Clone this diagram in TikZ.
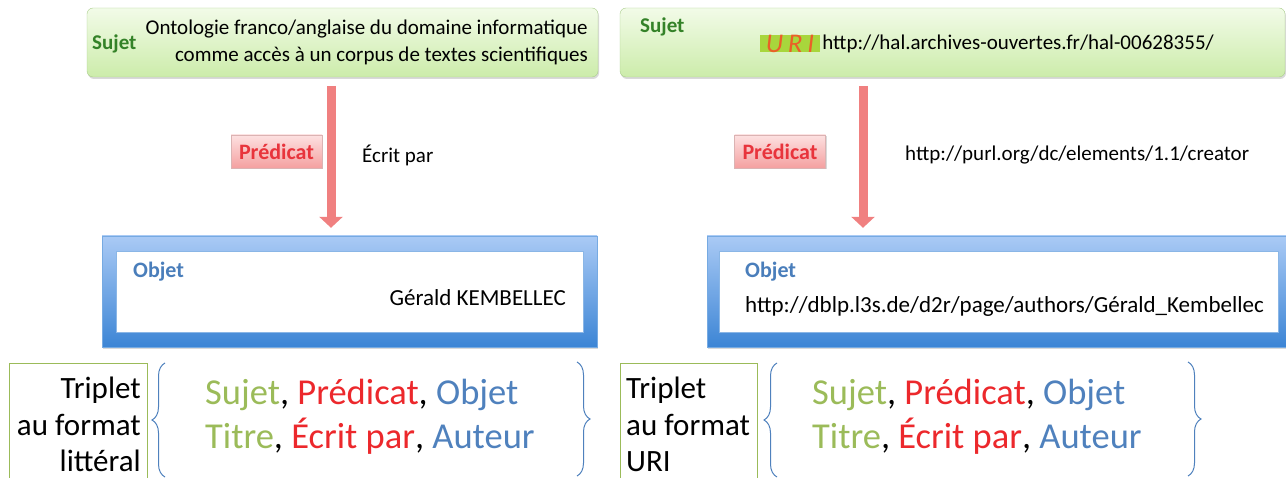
\documentclass[tikz,border=0pt]{standalone}
\usepackage{fontspec}
\setmainfont{Carlito}
\usetikzlibrary{arrows.meta,shadows,decorations.pathreplacing,positioning}

\definecolor{sujgreen}{RGB}{52,130,40}
\definecolor{sujtop}{RGB}{242,251,232}
\definecolor{sujbot}{RGB}{204,236,170}
\definecolor{sujborder}{RGB}{170,205,140}
\definecolor{predred}{RGB}{232,52,60}
\definecolor{predtop}{RGB}{253,225,225}
\definecolor{predbot}{RGB}{244,160,160}
\definecolor{arrowred}{RGB}{240,128,128}
\definecolor{objblue}{RGB}{74,126,187}
\definecolor{objtop}{RGB}{170,202,245}
\definecolor{objbot}{RGB}{60,133,213}
\definecolor{tripgreen}{RGB}{155,187,89}
\definecolor{tripred}{RGB}{236,40,44}
\definecolor{tripblue}{RGB}{79,129,189}
\definecolor{urihl}{RGB}{168,214,60}
\definecolor{uritext}{RGB}{235,95,40}

\begin{document}
\begin{tikzpicture}[x=1pt,y=1pt,
    sujetbox/.style={draw=sujborder, rounded corners=6pt, top color=sujtop, bottom color=sujbot,
        drop shadow={opacity=0.3,shadow xshift=1pt,shadow yshift=-2pt}, minimum height=69pt},
    sujetlbl/.style={font=\fontsize{21}{24}\selectfont\bfseries, text=sujgreen, inner sep=0pt},
    predbox/.style={draw=predbot!80!black!60, top color=predtop, bottom color=predbot,
        drop shadow={opacity=0.3,shadow xshift=1pt,shadow yshift=-1.5pt},
        minimum width=91pt, minimum height=33pt, inner sep=0pt,
        font=\fontsize{22}{24}\selectfont\bfseries, text=predred},
    predarrow/.style={line width=9pt, arrowred, -{Triangle[width=23pt,length=11pt]}},
    objouter/.style={top color=objtop, bottom color=objbot, draw=objbot!70,
        drop shadow={opacity=0.3,shadow xshift=1pt,shadow yshift=-2pt}},
    objinner/.style={fill=white, draw=objbot!60},
    objlbl/.style={font=\fontsize{22}{24}\selectfont\bfseries, text=objblue, inner sep=0pt},
    plain/.style={font=\fontsize{21}{27}\selectfont, inner sep=0pt},
    objtext/.style={font=\fontsize{23}{27}\selectfont, inner sep=0pt},
    tripbox/.style={draw=tripgreen, line width=1pt},
    tripname/.style={font=\fontsize{31}{36.5}\selectfont, inner sep=0pt},
    tripbrace/.style={draw=tripblue, line width=1pt, decorate, decoration={brace,amplitude=13pt}},
    triptext/.style={font=\fontsize{36.5}{44}\selectfont, inner sep=0pt, align=left}]
    \useasboundingbox (0,0) rectangle (1286,-478);
    \clip (0,0) rectangle (1286,-478);

    % Sujet
    \node[sujetbox, minimum width=511pt] (suj1) at (342.5,-42.5) {};
    \node[sujetlbl, anchor=west] (sl1) at (92,-44) {Sujet};
    \node[plain, align=right, anchor=east] (st1) at (588,-42)
        {Ontologie franco/anglaise du domaine informatique\\comme accès à un corpus de textes scientifiques};
    \node[sujetbox, minimum width=665pt] (suj2) at (952.5,-42.5) {};
    \node[sujetlbl, anchor=west] (sl2) at (640,-27) {Sujet};
    \node[fill=urihl, minimum width=60pt, minimum height=17pt, inner sep=0pt,
        font=\fontsize{27}{27}\selectfont\itshape\addfontfeatures{LetterSpace=18}, text=uritext] (uri) at (790,-43.5) {URI};
    \node[plain, right=2pt of uri] (st2) {http://hal.archives-ouvertes.fr/hal-00628355/};

    % Predicat
    \coordinate (a1) at (331,-86);
    \coordinate (a2) at (863,-86);
    \node[predbox] (pred1) at (276.5,-151.5) {Prédicat};
    \node[predbox] (pred2) at (780,-151.5) {Prédicat};
    \node[plain, anchor=west] (pv1) at (362,-155) {Écrit par};
    \node[plain, anchor=west] (pv2) at (905,-155) {http://purl.org/dc/elements/1.1/creator};

    % Objet
    \node[objouter, minimum width=495pt, minimum height=111pt] (obj1) at (349.5,-291.5) {};
    \node[objinner, minimum width=467pt, minimum height=81pt] (in1) at (obj1) {};
    \node[objlbl, anchor=west] (ol1) at (133,-272) {Objet};
    \node[objtext, anchor=east] (ov1) at (566,-298) {Gérald KEMBELLEC};
    \node[objouter, minimum width=590pt, minimum height=111pt] (obj2) at (1002,-291.5) {};
    \node[objinner, minimum width=559pt, minimum height=81pt] (in2) at (998.5,-291.5) {};
    \node[objlbl, anchor=west] (ol2) at (745,-272) {Objet};
    \node[objtext, anchor=west] (ov2) at (745,-306) {http://dblp.l3s.de/d2r/page/authors/Gérald\_Kembellec};

    \draw[predarrow, shorten >=8pt] (a1) -- (a1 |- obj1.north);
    \draw[predarrow, shorten >=8pt] (a2) -- (a2 |- obj2.north);

    % Triplets
    \node[tripbox, minimum width=138pt, minimum height=140pt, anchor=north west] (tb1) at (9,-363) {};
    \node[tripname, align=right, anchor=north east] (tl1) at (141,-377) {Triplet\\au format\\littéral};
    \node[tripbox, minimum width=137pt, minimum height=140pt, anchor=north west] (tb2) at (620,-363) {};
    \node[tripname, align=left, anchor=north west] (tl2) at (626,-377) {Triplet\\au format\\URI};

    \coordinate (b1t) at (165,-363);  \coordinate (b1b) at (165,-477);
    \coordinate (c1t) at (577,-362);  \coordinate (c1b) at (577,-476);
    \coordinate (b2t) at (777,-363);  \coordinate (b2b) at (777,-477);
    \coordinate (c2t) at (1188,-362); \coordinate (c2b) at (1188,-476);
    \draw[tripbrace] (b1b) -- (b1t);
    \draw[tripbrace] (c1t) -- (c1b);
    \draw[tripbrace] (b2b) -- (b2t);
    \draw[tripbrace] (c2t) -- (c2b);

    \node[triptext, anchor=north west] (tt1) at (205,-379)
        {\textcolor{tripgreen}{Sujet}, \textcolor{tripred}{Prédicat}, \textcolor{tripblue}{Objet}\\
         \textcolor{tripgreen}{Titre}, \textcolor{tripred}{Écrit par}, \textcolor{tripblue}{Auteur}};
    \node[triptext, anchor=north west] (tt2) at (812,-379)
        {\textcolor{tripgreen}{Sujet}, \textcolor{tripred}{Prédicat}, \textcolor{tripblue}{Objet}\\
         \textcolor{tripgreen}{Titre}, \textcolor{tripred}{Écrit par}, \textcolor{tripblue}{Auteur}};
\end{tikzpicture}
\end{document}
